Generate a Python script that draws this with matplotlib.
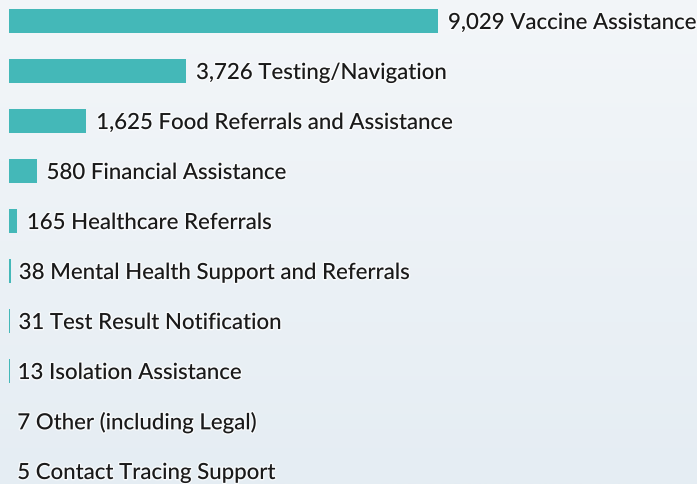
import numpy as np
import matplotlib
matplotlib.use("Agg")
import matplotlib.pyplot as plt
import matplotlib.patheffects as pe
from matplotlib.colors import LinearSegmentedColormap

categories = ["Vaccine Assistance", "Testing/Navigation", "Food Referrals and Assistance",
              "Financial Assistance", "Healthcare Referrals", "Mental Health Support and Referrals",
              "Test Result Notification", "Isolation Assistance", "Other (including Legal)",
              "Contact Tracing Support"]
values = [9029, 3726, 1625, 580, 165, 38, 31, 13, 7, 5]
labels = ["9,029", "3,726", "1,625", "580", "165", "38", "31", "13", "7", "5"]

W, H = 697, 485
fig = plt.figure(figsize=(W / 100, H / 100), dpi=100)
ax = fig.add_axes([0, 0, 1, 1])

# pixel mapping
k = 9029 / 429.0   # value units per pixel
x0 = 9
ax.set_xlim(-x0 * k, (W - x0) * k)
row = 50.0
top = 22.0
ax.set_ylim((H - top) / row, -top / row)

# background gradient
cmap = LinearSegmentedColormap.from_list("bg", ["#f3f6f9", "#e5edf3"])
grad = np.linspace(0, 1, 256).reshape(-1, 1)
ax.imshow(grad, cmap=cmap, aspect="auto", extent=[0, 1, 0, 1], transform=ax.transAxes,
          zorder=0, origin="upper")

y = np.arange(len(values))
ax.barh(y, values, height=0.48, color="#44b8b8", zorder=2, linewidth=0)

for yi, v, lab, cat in zip(y, values, labels, categories):
    gap = 10 if v > 100 else 8
    ax.text(v + gap * k, yi, f"{lab} {cat}", va="center_baseline", ha="left",
            fontsize=16, family="Lato", fontweight="medium", color="#1a1a1a", zorder=3,
            path_effects=[pe.withStroke(linewidth=2, foreground="white", alpha=0.7)])

ax.axis("off")
fig.savefig("out.png", dpi=100)
